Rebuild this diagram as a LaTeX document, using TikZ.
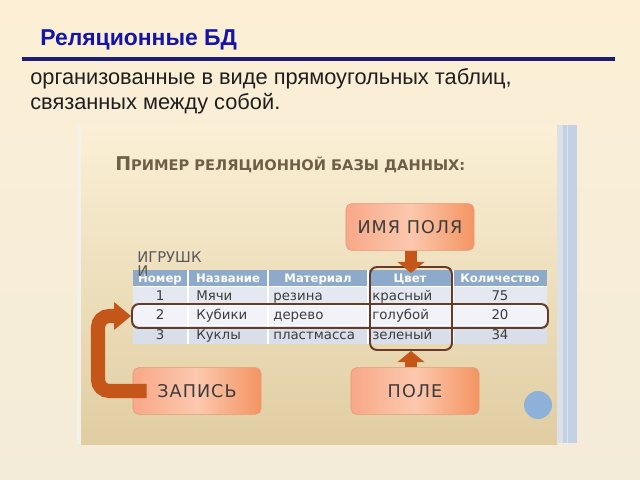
\documentclass[tikz,border=0pt]{standalone}
\usepackage{fontspec}
\setmainfont{Liberation Sans}
\newfontfamily\slidefont{DejaVu Sans}
\newfontfamily\boxfont[LetterSpace=6]{DejaVu Sans}
\usetikzlibrary{arrows.meta,positioning,fit,calc}
\definecolor{pageTop}{HTML}{FCEFD6}
\definecolor{pageBot}{HTML}{F3ECD9}
\definecolor{titleBlue}{HTML}{1414A8}
\definecolor{ruleBlue}{HTML}{1C1C72}
\definecolor{slideTop}{HTML}{FBF0D6}
\definecolor{slideBot}{HTML}{E0CDA2}
\definecolor{slideEdge}{HTML}{F4F1EA}
\definecolor{barGrey}{HTML}{DCE1E8}
\definecolor{barBlue}{HTML}{C3D1E4}
\definecolor{headText}{HTML}{6E5F48}
\definecolor{hdrBlue}{HTML}{8EAACB}
\definecolor{rowA}{HTML}{E4E9F1}
\definecolor{rowB}{HTML}{F1F3F8}
\definecolor{rowC}{HTML}{D8DFEB}
\definecolor{cellText}{HTML}{3C3C3C}
\definecolor{boxL}{HTML}{F8A888}
\definecolor{boxM}{HTML}{FCC8AE}
\definecolor{boxR}{HTML}{F49462}
\definecolor{boxEdge}{HTML}{E49A78}
\definecolor{markBrown}{HTML}{6A3A28}
\definecolor{arrowBrown}{HTML}{C4561A}
\definecolor{dotBlue}{HTML}{8EB1DA}
\tikzset{
  heading/.style={font=\fontsize{16.3}{19}\selectfont\bfseries, text=titleBlue, inner sep=0pt},
  para/.style={font=\fontsize{15.5}{18}\selectfont, text=black!88, align=left, inner sep=0pt},
  slidehead/.style={font=\slidefont\fontsize{10.4}{12}\selectfont\bfseries, text=headText, inner sep=0pt},
  box/.style={rounded corners=4pt, draw=boxEdge, left color=boxL, right color=boxR, middle color=boxM,
              minimum width=3.2cm, minimum height=1.17cm, font=\boxfont\fontsize{12.5}{14}\selectfont,
              text=cellText},
  hdr/.style={font=\slidefont\fontsize{8.3}{9}\selectfont\bfseries, text=white, inner sep=0pt},
  cell/.style={font=\slidefont\fontsize{9.5}{10}\selectfont, text=cellText, inner sep=0pt},
  lbl/.style={font=\slidefont\fontsize{10.5}{10.5}\selectfont, text=cellText!85, inner sep=0pt, align=left},
  hilite/.style={draw=markBrown, line width=1.4pt, rounded corners=5pt, inner sep=0pt},
  fatflow/.style={-{Triangle[length=8pt,width=19pt]}, draw=arrowBrown, line width=9pt},
  bigflow/.style={-{Triangle[length=12pt,width=19pt]}, draw=arrowBrown, line width=10pt, rounded corners=8pt},
}

\begin{document}
\begin{tikzpicture}[x=0.025cm,y=-0.025cm]
  \useasboundingbox (0,0) rectangle (640,480);
  \shade[top color=pageTop, bottom color=pageBot] (0,0) rectangle (640,480);

  % title and text of the page
  \node[heading, anchor=west] (title) at (40,40) {Реляционные БД};
  \draw[ruleBlue, line width=2.2pt] (22,59) -- (615,59);
  \node[para, anchor=north west] (intro) at (30,68)
    {организованные в виде прямоугольных таблиц,\\связанных между собой.};

  % the slide picture
  \fill[slideEdge] (77,124) rectangle (557,444);
  \shade[top color=slideTop, middle color=slideTop, bottom color=slideBot] (81,124) rectangle (557,444);
  \fill[barGrey] (557,125) rectangle (563,443);
  \fill[barBlue] (563,125) rectangle (577,443);
  \draw[barBlue!60!white] (567,125) -- (567,443);

  \node[slidehead, anchor=west] (shead) at (115,165)
    {{\fontsize{13.5}{15}\selectfont П}РИМЕР РЕЛЯЦИОННОЙ БАЗЫ ДАННЫХ:};

  % table rows
  \foreach \r/\ya/\yb/\c in {0/270/286/hdrBlue, 1/286/305/rowA, 2/305/325/rowB, 3/325/344/rowC}{
    \fill[\c] (133,\ya) rectangle (547,\yb);}
  \foreach \x in {188,268,368,453}{
    \draw[white, line width=0.8pt] (\x,270) -- (\x,344);}
  \foreach \y in {286,305,325}{
    \draw[white, line width=0.6pt] (133,\y) -- (547,\y);}

  \foreach \t/\x [count=\k] in {Номер/160, Название/228, Материал/318, Цвет/410, Количество/500}{
    \node[hdr, anchor=base] (h-\k) at (\x,282) {\t};}
  \foreach \r/\y/\n/\a/\m/\col/\q in {1/300/1/Мячи/резина/красный/75,
                                      2/319/2/Кубики/дерево/голубой/20,
                                      3/339/3/Куклы/пластмасса/зеленый/34}{
    \node[cell, anchor=base] (n-\r) at (160,\y) {\n};
    \node[cell, anchor=base west] (a-\r) at (196,\y) {\a};
    \node[cell, anchor=base west] (m-\r) at (273,\y) {\m};
    \node[cell, anchor=base west] (c-\r) at (372,\y) {\col};
    \node[cell, anchor=base] (q-\r) at (500,\y) {\q};}

  \node[lbl, anchor=north west] (toys) at (137,251) {ИГРУШК\\И};

  % record and field marks
  \node[hilite, fit={(132,304) (548,328)}] (rec) {};
  \node[hilite, fit={(370,267) (452,350)}] (fld) {};

  % labels
  \node[box] (imya) at (410,227) {ИМЯ ПОЛЯ};
  \node[box] (zapis) at (197,391) {ЗАПИСЬ};
  \node[box] (pole) at (415,391) {ПОЛЕ};

  \draw[fatflow] (imya.south -| fld.north) -- ($(fld.north)+(0,7)$);
  \draw[fatflow] (fld.south |- pole.north) -- (fld.south);
  \draw[bigflow] ($(zapis.west)+(14,0)$) -| ($(rec.west)+(-33,0)$) -- (rec.west);

  \fill[dotBlue] (538,405) circle (14);
\end{tikzpicture}
\end{document}
